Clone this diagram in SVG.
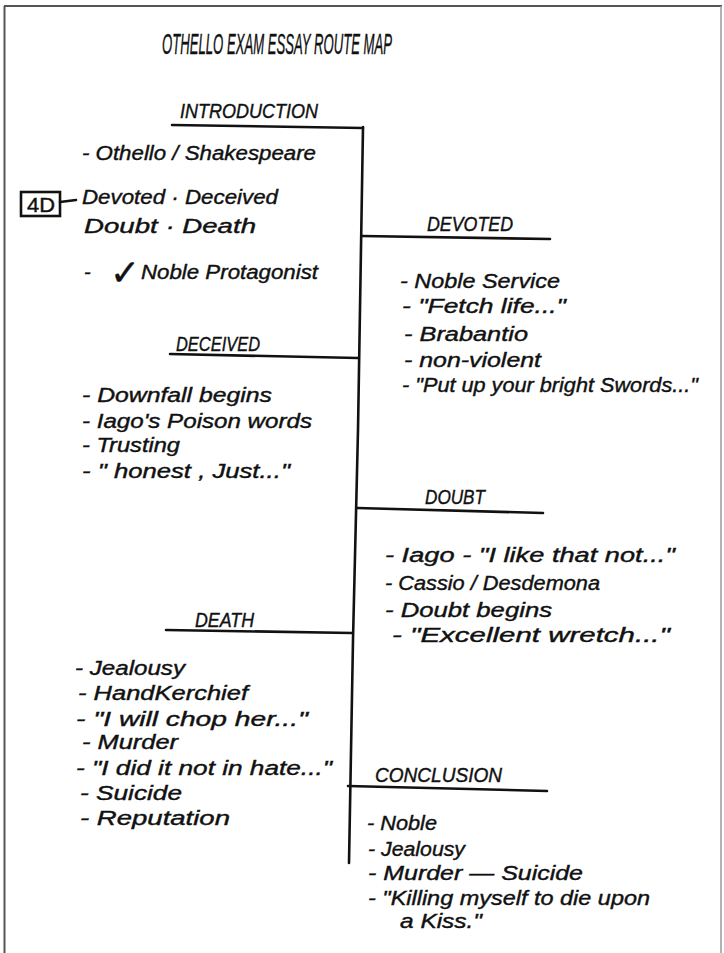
<svg xmlns="http://www.w3.org/2000/svg" width="724" height="953" viewBox="0 0 724 953">
  <style>
    .ink { font-family: "Liberation Sans", "DejaVu Sans", sans-serif; fill: #111; stroke: #111; stroke-width: 0.4; }
    .title { font-size: 29px; font-style: italic; }
    .head { font-size: 20px; font-style: italic; }
    .item { font-size: 20px; font-style: italic; }
    .rule { stroke: #111; stroke-width: 2.6; fill: none; stroke-linecap: round; stroke-linejoin: round; }
    .frame { stroke: #555; stroke-width: 2; fill: none; }
  </style>

  <rect width="724" height="953" fill="#fff"/>

  <!-- page frame -->
  <g id="frame">
    <line class="frame" x1="4.5" y1="6" x2="4.5" y2="953"/>
    <line class="frame" x1="4" y1="6" x2="722" y2="6"/>
    <line x1="721" y1="6" x2="721" y2="953" stroke="#999" stroke-width="1.5"/>
  </g>

  <g id="title">
    <text class="ink title" x="162" y="54" textLength="230" lengthAdjust="spacingAndGlyphs">OTHELLO  EXAM  ESSAY  ROUTE MAP</text>
  </g>

  <!-- spine and branch rules -->
  <g id="connectors">
    <polyline class="rule" points="363,127 358,430 353,640 349,863"/>
    <polyline class="rule" points="172,125 363,128"/>
    <polyline class="rule" points="362,236 550,239"/>
    <polyline class="rule" points="170,354 358,358"/>
    <polyline class="rule" points="357,508 543,513"/>
    <polyline class="rule" points="166,630 352,633"/>
    <polyline class="rule" points="348,786 547,791"/>
    <line class="rule" x1="60" y1="202" x2="76" y2="200"/>
  </g>

  <g id="intro">
    <text class="ink head" x="180" y="118" textLength="138" lengthAdjust="spacingAndGlyphs">INTRODUCTION</text>
    <text class="ink item" x="82" y="160" font-size="23" textLength="234" lengthAdjust="spacingAndGlyphs">-  Othello / Shakespeare</text>
    <text class="ink item" x="82" y="204" font-size="22" textLength="196" lengthAdjust="spacingAndGlyphs">Devoted · Deceived</text>
    <text class="ink item" x="84" y="233" font-size="22" textLength="172" lengthAdjust="spacingAndGlyphs">Doubt · Death</text>
    <text class="ink item" x="84" y="279">-</text>
    <text class="ink" x="110" y="285" font-family="DejaVu Sans, sans-serif" font-size="36" font-weight="bold">✓</text>
    <text class="ink item" x="141" y="279" font-size="22" textLength="177" lengthAdjust="spacingAndGlyphs">Noble  Protagonist</text>
  </g>

  <g id="four-d">
    <rect x="21" y="192" width="39" height="24" fill="none" stroke="#111" stroke-width="2.6"/>
    <text class="ink" x="27" y="212" font-size="20" textLength="28" lengthAdjust="spacingAndGlyphs">4D</text>
  </g>

  <g id="devoted">
    <text class="ink head" x="427" y="231" textLength="86" lengthAdjust="spacingAndGlyphs">DEVOTED</text>
    <text class="ink item" x="400" y="288" textLength="160" lengthAdjust="spacingAndGlyphs">- Noble  Service</text>
    <text class="ink item" x="402" y="313" textLength="164" lengthAdjust="spacingAndGlyphs">- "Fetch life..."</text>
    <text class="ink item" x="404" y="341" textLength="124" lengthAdjust="spacingAndGlyphs">-  Brabantio</text>
    <text class="ink item" x="404" y="367" textLength="137" lengthAdjust="spacingAndGlyphs">- non-violent</text>
    <text class="ink item" x="402" y="392" textLength="296" lengthAdjust="spacingAndGlyphs">- "Put up your bright Swords..."</text>
  </g>

  <g id="deceived">
    <text class="ink head" x="176" y="351" textLength="84" lengthAdjust="spacingAndGlyphs">DECEIVED</text>
    <text class="ink item" x="82" y="402" textLength="190" lengthAdjust="spacingAndGlyphs">-   Downfall  begins</text>
    <text class="ink item" x="82" y="428" textLength="230" lengthAdjust="spacingAndGlyphs">-   Iago's  Poison  words</text>
    <text class="ink item" x="82" y="452" textLength="98" lengthAdjust="spacingAndGlyphs">-   Trusting</text>
    <text class="ink item" x="82" y="478" textLength="208" lengthAdjust="spacingAndGlyphs">-   " honest , Just..."</text>
  </g>

  <g id="doubt">
    <text class="ink head" x="425" y="504" textLength="60" lengthAdjust="spacingAndGlyphs">DOUBT</text>
    <text class="ink item" x="385" y="562" textLength="290" lengthAdjust="spacingAndGlyphs">- Iago - "I like that not..."</text>
    <text class="ink item" x="385" y="590" textLength="215" lengthAdjust="spacingAndGlyphs">- Cassio / Desdemona</text>
    <text class="ink item" x="385" y="617" textLength="167" lengthAdjust="spacingAndGlyphs">- Doubt  begins</text>
    <text class="ink item" x="392" y="642" textLength="278" lengthAdjust="spacingAndGlyphs">- "Excellent  wretch..."</text>
  </g>

  <g id="death">
    <text class="ink head" x="195" y="627" textLength="59" lengthAdjust="spacingAndGlyphs">DEATH</text>
    <text class="ink item" x="75" y="675" textLength="110" lengthAdjust="spacingAndGlyphs">-  Jealousy</text>
    <text class="ink item" x="78" y="700" textLength="170" lengthAdjust="spacingAndGlyphs">-  HandKerchief</text>
    <text class="ink item" x="76" y="726" textLength="232" lengthAdjust="spacingAndGlyphs">- "I will chop her..."</text>
    <text class="ink item" x="82" y="749" textLength="96" lengthAdjust="spacingAndGlyphs">- Murder</text>
    <text class="ink item" x="76" y="775" textLength="256" lengthAdjust="spacingAndGlyphs">- "I did it not in hate..."</text>
    <text class="ink item" x="80" y="800" textLength="102" lengthAdjust="spacingAndGlyphs">-  Suicide</text>
    <text class="ink item" x="80" y="825" textLength="150" lengthAdjust="spacingAndGlyphs">-  Reputation</text>
  </g>

  <g id="conclusion">
    <text class="ink head" x="375" y="782" textLength="127" lengthAdjust="spacingAndGlyphs">CONCLUSION</text>
    <text class="ink item" x="367" y="830" textLength="70" lengthAdjust="spacingAndGlyphs">- Noble</text>
    <text class="ink item" x="368" y="856" textLength="97" lengthAdjust="spacingAndGlyphs">- Jealousy</text>
    <text class="ink item" x="368" y="880" textLength="215" lengthAdjust="spacingAndGlyphs">-  Murder — Suicide</text>
    <text class="ink item" x="368" y="905" textLength="282" lengthAdjust="spacingAndGlyphs">- "Killing myself to die upon</text>
    <text class="ink item" x="400" y="928" textLength="82" lengthAdjust="spacingAndGlyphs">a Kiss."</text>
  </g>
</svg>
